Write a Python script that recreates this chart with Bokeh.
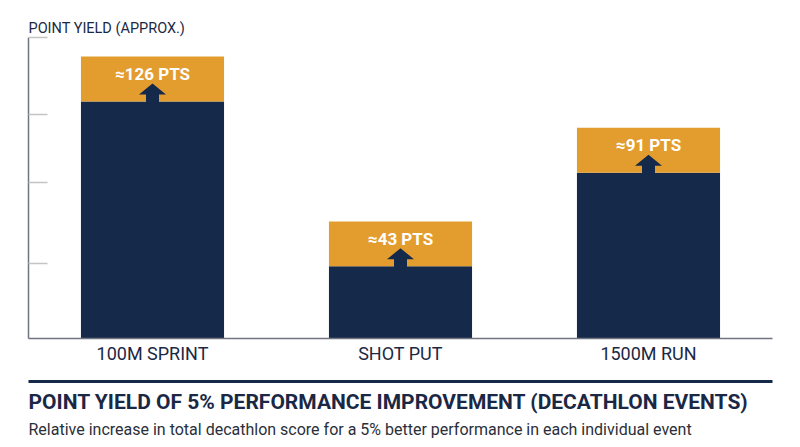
from bokeh.plotting import figure
from bokeh.models import Range1d, FixedTicker, Title, LinearAxis, ColumnDataSource
from bokeh.core.properties import value
from bokeh.embed import file_html
from bokeh.resources import INLINE

# ---- data ----
events = ["100M SPRINT", "SHOT PUT", "1500M RUN"]
gain_pts = [126, 43, 91]                 # labelled point gain
base_level = [118.1, 36.0, 82.6]         # navy bar height (relative units, no axis values)
cap_level = [22.4, 22.3, 22.4]           # orange cap height (relative units)
y_ticks = [37.4, 77.5, 111.8, 150]       # unlabelled tick marks

NAVY = "#15294a"
ORANGE = "#e39d2e"
TEXT = "#1b2845"
FONT = "Roboto"

W, H = 800, 447
p = figure(width=W, height=H, output_backend="svg", toolbar_location=None,
           x_range=Range1d(0, len(events)), y_range=Range1d(0, 150),
           min_border_left=28, min_border_right=28, min_border_top=37, min_border_bottom=109)
p.outline_line_color = None
p.grid.visible = False
p.background_fill_color = "white"
p.border_fill_color = "white"

xc = [i + 0.5 for i in range(len(events))]
tops = [b + c for b, c in zip(base_level, cap_level)]
src = ColumnDataSource(dict(x=xc, base=base_level, top=tops,
                            lab=["≈%d PTS" % g for g in gain_pts],
                            ly=[t - 8.7 for t in tops]))

bw = 0.577
p.vbar(x="x", bottom=0, top="base", width=bw, source=src, fill_color=NAVY, line_color=None)
p.vbar(x="x", bottom="base", top="top", width=bw, source=src, fill_color=ORANGE, line_color=None)

# arrows from navy into orange
hw, sw = 0.0544, 0.0262
tip, neck = 9.0, 3.5
axs, ays = [], []
for x, b in zip(xc, base_level):
    axs.append([x - sw, x - sw, x - hw, x, x + hw, x + sw, x + sw])
    ays.append([b - 1, b + neck, b + neck, b + tip, b + neck, b + neck, b - 1])
p.patches(axs, ays, fill_color=NAVY, line_color=None)

p.text(x="x", y="ly", text="lab", source=src, text_color="white",
       text_font=value(FONT), text_font_style="bold", text_font_size="17px",
       text_align="center", text_baseline="alphabetic")

# x axis with event names
xa = p.xaxis[0]
xa.ticker = FixedTicker(ticks=xc)
xa.major_label_overrides = {x: e for x, e in zip(xc, events)}
xa.major_tick_line_color = None
xa.major_tick_out = 0
xa.minor_tick_out = 0
xa.minor_tick_line_color = None
xa.axis_line_color = "#6f7480"
xa.axis_line_width = 1.5
xa.major_label_text_font = FONT
xa.major_label_text_font_size = "18px"
xa.major_label_text_color = TEXT
xa.major_label_standoff = 4
xa.axis_label = "\u00a0"
xa.axis_label_text_font_size = "8px"
xa.axis_label_standoff = 3

# y axis: bare ticks, no labels
ya = p.yaxis[0]
ya.ticker = FixedTicker(ticks=y_ticks)
ya.major_label_overrides = {t: "" for t in y_ticks}
ya.major_label_standoff = 0
ya.major_tick_in = 19
ya.major_tick_out = 0
ya.minor_tick_out = 0
ya.major_tick_line_color = "#c4c4c4"
ya.major_tick_line_width = 1.5
ya.minor_tick_line_color = None
ya.axis_line_color = "#6f7480"
ya.axis_line_width = 1.5

# y axis caption above the frame
p.add_layout(Title(text="POINT YIELD (APPROX.)", align="left", text_font=FONT,
                   text_font_size="14.5px", text_color=TEXT, text_font_style="normal",
                   standoff=2), "above")

# navy rule under the chart (a bare axis line)
rule = LinearAxis(ticker=FixedTicker(ticks=[]), axis_line_color=NAVY, axis_line_width=3,
                  major_tick_out=0, major_tick_in=0, minor_tick_out=0, minor_tick_in=0,
                  major_label_standoff=0)
p.add_layout(rule, "below")

p.add_layout(Title(text="POINT YIELD OF 5% PERFORMANCE IMPROVEMENT (DECATHLON EVENTS)",
                   align="left", text_font=FONT, text_font_size="21px", text_color=TEXT,
                   text_font_style="bold", standoff=13), "below")
p.add_layout(Title(text="Relative increase in total decathlon score for a 5% better performance in each individual event",
                   align="left", text_font=FONT, text_font_size="16px", text_color="#2a2f3a",
                   text_font_style="normal", standoff=-6), "below")

open("out.html", "w").write(file_html(p, INLINE))
